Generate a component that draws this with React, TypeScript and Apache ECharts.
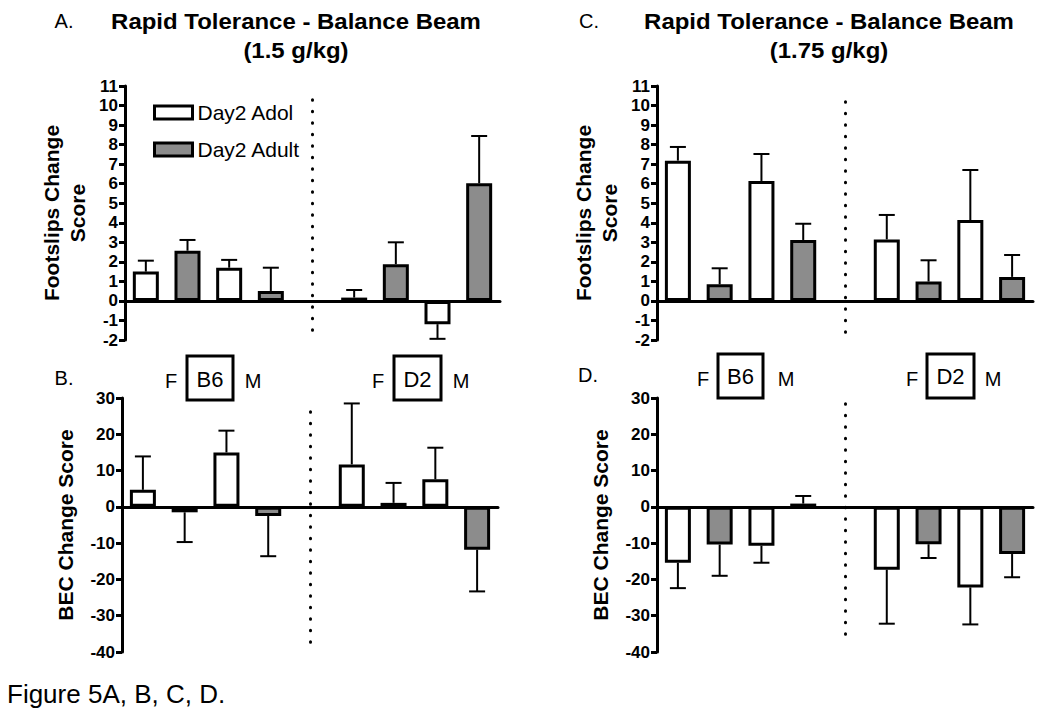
import React, { useEffect, useRef } from "react";
import * as echarts from "echarts";

const FONT = '"Liberation Sans", Arial, sans-serif';

// Slots on the category axis: 4 B6 bars, an empty separator slot, 4 D2 bars
const categories = [
  "B6 F Adol",
  "B6 F Adult",
  "B6 M Adol",
  "B6 M Adult",
  "sep",
  "D2 F Adol",
  "D2 F Adult",
  "D2 M Adol",
  "D2 M Adult",
];
const seriesNames = ["Day2 Adol", "Day2 Adult"];

// Order of values: B6-F Adol, B6-F Adult, B6-M Adol, B6-M Adult, D2-F Adol, D2-F Adult, D2-M Adol, D2-M Adult
const footslips15 = [1.5, 2.57, 1.7, 0.51, 0.17, 1.88, -1.19, 6.02];
const footslips15Sem = [0.56, 0.55, 0.4, 1.19, 0.39, 1.12, 0.75, 2.42];
const footslips175 = [7.18, 0.85, 6.14, 3.12, 3.15, 0.99, 4.14, 1.23];
const footslips175Sem = [0.7, 0.82, 1.38, 0.83, 1.25, 1.09, 2.56, 1.12];
const bec15 = [4.7, -1.5, 15.0, -2.5, 11.7, 1.1, 7.6, -11.8];
const bec15Sem = [9.2, 8.2, 6.0, 11.1, 16.8, 5.5, 8.7, 11.5];
const bec175 = [-15.4, -10.4, -10.7, 0.9, -17.3, -10.3, -22.2, -13.0];
const bec175Sem = [7.0, 8.6, 4.7, 2.1, 14.9, 3.8, 10.2, 6.4];

const footslipsTicks = { min: -2, max: 11, interval: 1 };
const becTicks = { min: -40, max: 30, interval: 10 };

const panels = [
  {
    grid: { left: 125, top: 86, width: 375, height: 254 },
    ticks: footslipsTicks,
    values: footslips15,
    sem: footslips15Sem,
    yName: "Footslips Change\nScore",
    nameGap: 35,
    dots: [10.3, -2],
  },
  {
    grid: { left: 657, top: 86, width: 376, height: 254 },
    ticks: footslipsTicks,
    values: footslips175,
    sem: footslips175Sem,
    yName: "Footslips Change\nScore",
    nameGap: 35,
    dots: [10.2, -2],
  },
  {
    grid: { left: 122, top: 398, width: 376, height: 254 },
    ticks: becTicks,
    values: bec15,
    sem: bec15Sem,
    yName: "BEC Change Score",
    nameGap: 44,
    dots: [26.2, -40],
  },
  {
    grid: { left: 657, top: 398, width: 376, height: 254 },
    ticks: becTicks,
    values: bec175,
    sem: bec175Sem,
    yName: "BEC Change Score",
    nameGap: 44,
    dots: [28.4, -38.1],
  },
];

const slotOf = (i: number) => (i < 4 ? i : i + 1);

function buildOption() {
  const grid: any[] = [];
  const xAxis: any[] = [];
  const yAxis: any[] = [];
  const series: any[] = [];

  panels.forEach((p, pi) => {
    grid.push({ ...p.grid, containLabel: false, outerBoundsMode: "none" });
    xAxis.push({
      type: "category",
      gridIndex: pi,
      data: categories,
      axisLine: { show: true, onZero: true, lineStyle: { color: "#000", width: 3 } },
      axisTick: { show: false },
      axisLabel: { show: false },
      splitLine: { show: false },
    });
    yAxis.push({
      type: "value",
      gridIndex: pi,
      min: p.ticks.min,
      max: p.ticks.max,
      interval: p.ticks.interval,
      name: p.yName,
      nameLocation: "middle",
      nameRotate: 90,
      nameGap: p.nameGap,
      nameTextStyle: {
        fontFamily: FONT,
        fontWeight: "bold",
        fontSize: 21,
        color: "#000",
        lineHeight: 26,
      },
      axisLine: { show: true, lineStyle: { color: "#000", width: 3 } },
      axisTick: { show: true, inside: false, length: 6, lineStyle: { color: "#000", width: 3 } },
      axisLabel: {
        show: true,
        margin: 7,
        fontFamily: FONT,
        fontWeight: "bold",
        fontSize: 17,
        color: "#000",
      },
      splitLine: { show: false },
    });

    for (let k = 0; k < 2; k++) {
      const data: (number | null)[] = categories.map(() => null);
      p.values.forEach((v, i) => {
        if (i % 2 === k) data[slotOf(i)] = v;
      });
      const s: any = {
        type: "bar",
        name: seriesNames[k],
        xAxisIndex: pi,
        yAxisIndex: pi,
        data,
        barWidth: 26,
        barGap: "-100%",
        itemStyle: {
          color: k === 0 ? "#ffffff" : "#8c8c8c",
          borderColor: "#000",
          borderWidth: 3,
        },
        silent: true,
      };
      if (k === 0) {
        s.markLine = {
          silent: true,
          symbol: "none",
          label: { show: false },
          lineStyle: { color: "#000", width: 3, type: [0.5, 11], cap: "round" },
          data: [
            [
              { coord: [categories[4], p.dots[0]] },
              { coord: [categories[4], p.dots[1]] },
            ],
          ],
        };
      }
      series.push(s);
    }

    series.push({
      type: "custom",
      name: "sem" + pi,
      xAxisIndex: pi,
      yAxisIndex: pi,
      silent: true,
      z: 5,
      encode: { x: 0, y: 1 },
      data: p.values.map((v, i) => [slotOf(i), v, p.sem[i]]),
      renderItem: (params: any, api: any) => {
        const x = api.value(0);
        const v = api.value(1);
        const s = api.value(2);
        const end = v >= 0 ? v + s : v - s;
        const p0 = api.coord([x, v]);
        const p1 = api.coord([x, end]);
        const half = 8;
        return {
          type: "group",
          children: [
            {
              type: "line",
              shape: { x1: p0[0], y1: p0[1], x2: p1[0], y2: p1[1] },
              style: { stroke: "#000", lineWidth: 2 },
            },
            {
              type: "line",
              shape: { x1: p1[0] - half, y1: p1[1], x2: p1[0] + half, y2: p1[1] },
              style: { stroke: "#000", lineWidth: 2 },
            },
          ],
        };
      },
    });
  });

  const txt = (
    text: string,
    x: number,
    y: number,
    font: string,
    align: string = "center",
    scaleX: number = 1
  ) => ({
    type: "text",
    x,
    y,
    scaleX,
    silent: true,
    style: {
      text,
      font,
      fill: "#000",
      align,
      verticalAlign: "middle",
      textAlign: align,
      textVerticalAlign: "middle",
    },
  });
  const box = (x1: number, y1: number, x2: number, y2: number) => ({
    type: "rect",
    silent: true,
    shape: { x: x1, y: y1, width: x2 - x1, height: y2 - y1 },
    style: { fill: "#fff", stroke: "#000", lineWidth: 3 },
  });

  const titleFont = `bold 22px ${FONT}`;
  const letterFont = `20px ${FONT}`;
  const groupFont = `20px ${FONT}`;
  const strainFont = `22px ${FONT}`;

  const graphic: any[] = [
    txt("A.", 64, 21, letterFont),
    txt("Rapid Tolerance - Balance Beam", 296, 21, titleFont, "center", 1.09),
    txt("(1.5 g/kg)", 296, 50, titleFont, "center", 1.09),
    txt("C.", 589, 21, letterFont),
    txt("Rapid Tolerance - Balance Beam", 829, 21, titleFont, "center", 1.09),
    txt("(1.75 g/kg)", 829, 50, titleFont, "center", 1.09),
    txt("B.", 64, 378, letterFont),
    txt("D.", 588, 375, letterFont),
    // B panel strain labels
    txt("F", 171, 381, groupFont),
    box(187, 356, 233, 400),
    txt("B6", 210, 379, strainFont),
    txt("M", 253, 381, groupFont),
    txt("F", 378, 381, groupFont),
    box(394, 356, 441, 400),
    txt("D2", 417.5, 379, strainFont),
    txt("M", 461, 381, groupFont),
    // D panel strain labels
    txt("F", 703, 379, groupFont),
    box(718, 354, 763, 398),
    txt("B6", 740.5, 376, strainFont),
    txt("M", 786, 379, groupFont),
    txt("F", 912, 379, groupFont),
    box(927, 354, 974, 398),
    txt("D2", 950.5, 376, strainFont),
    txt("M", 993, 379, groupFont),
    txt("Figure 5A, B, C, D.", 7, 694, `26px ${FONT}`, "left"),
  ];

  return {
    animation: false,
    backgroundColor: "#ffffff",
    textStyle: { fontFamily: FONT },
    grid,
    xAxis,
    yAxis,
    series,
    legend: {
      data: seriesNames,
      orient: "vertical",
      left: 148,
      top: 97,
      itemWidth: 38,
      itemHeight: 13,
      itemGap: 16,
      icon: "rect",
      selectedMode: false,
      textStyle: { fontFamily: FONT, fontSize: 21, color: "#000" },
      itemStyle: { borderColor: "#000", borderWidth: 3 },
    },
    graphic,
  };
}

export default function App() {
  const ref = useRef<HTMLDivElement>(null);
  useEffect(() => {
    if (!ref.current) return;
    const chart = echarts.init(ref.current, undefined, { renderer: "svg" });
    chart.setOption(buildOption() as any);
    return () => chart.dispose();
  }, []);
  return (
    <div
      ref={ref}
      style={{ width: 1050, height: 716, position: "absolute", left: 0, top: 0, background: "#fff" }}
    />
  );
}
